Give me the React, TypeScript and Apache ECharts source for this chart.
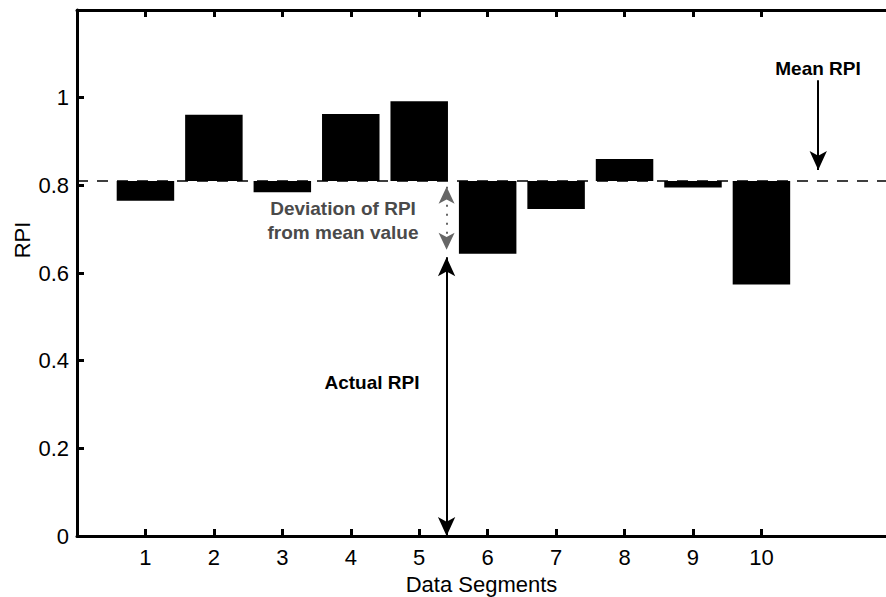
import React, { useEffect, useRef } from "react";
import * as echarts from "echarts";

// Segment indices and their relative performance index (RPI)
const segments = [1, 2, 3, 4, 5, 6, 7, 8, 9, 10];
const rpiValues = [0.765, 0.961, 0.784, 0.963, 0.992, 0.644, 0.746, 0.86, 0.795, 0.574];
const meanRpi = 0.81;

// Axis ranges and labelled ticks
const xTicks = [1, 2, 3, 4, 5, 6, 7, 8, 9, 10];
const xRange = [0, 11.82];
const yRange = [0, 1.2];
const yStep = 0.2;

// Annotation anchors (data units)
const meanArrow = { x: 10.83, from: 1.04, to: 0.835 };
const actualArrow = { x: 5.4, from: 0, to: 0.636 };
const deviationArrow = { x: 5.4, from: 0.797, to: 0.653 };

const FONT = "'Liberation Sans', Arial, Helvetica, sans-serif";
const BAR_HALF = 0.42;

export default function App() {
  const ref = useRef<HTMLDivElement>(null);

  useEffect(() => {
    if (!ref.current) return;
    const chart = echarts.init(ref.current, undefined, { renderer: "svg" });

    const barData = segments.map((s, i) => [s, rpiValues[i]]);

    const axisLineStyle = { color: "#000", width: 3 };
    const tickStyle = { color: "#000", width: 3 };
    const labelStyle = { color: "#000", fontSize: 22, fontFamily: FONT, fontWeight: 500 };

    chart.setOption({
      animation: false,
      backgroundColor: "#fff",
      grid: { left: 77, right: 0, top: 10, bottom: 61, outerBoundsMode: "none", containLabel: false },
      xAxis: [
        {
          type: "value",
          min: xRange[0],
          max: xRange[1],
          position: "bottom",
          splitLine: { show: false },
          axisLine: { show: true, onZero: false, lineStyle: axisLineStyle },
          axisTick: { show: true, inside: true, length: 7, lineStyle: tickStyle, customValues: xTicks },
          axisLabel: { show: true, customValues: xTicks, margin: 10, ...labelStyle },
          name: "Data Segments",
          nameLocation: "middle",
          nameGap: 37,
          nameTextStyle: { ...labelStyle, verticalAlign: "top" },
        },
        {
          type: "value",
          min: xRange[0],
          max: xRange[1],
          position: "top",
          splitLine: { show: false },
          axisLine: { show: true, onZero: false, lineStyle: axisLineStyle },
          axisTick: { show: true, inside: true, length: 7, lineStyle: tickStyle, customValues: xTicks },
          axisLabel: { show: false },
        },
      ],
      yAxis: {
        type: "value",
        min: yRange[0],
        max: yRange[1],
        interval: yStep,
        splitLine: { show: false },
        axisLine: { show: true, onZero: false, lineStyle: axisLineStyle },
        axisTick: { show: true, inside: true, length: 7, lineStyle: tickStyle },
        axisLabel: {
          showMaxLabel: false,
          margin: 8,
          ...labelStyle,
          formatter: (v: number) => String(Number(v.toFixed(1))),
        },
      },
      series: [
        {
          type: "custom",
          name: "RPI",
          data: barData,
          renderItem: (params: any, api: any) => {
            const x = api.value(0);
            const v = api.value(1);
            const p0 = api.coord([x - BAR_HALF, meanRpi]);
            const p1 = api.coord([x + BAR_HALF, v]);
            return {
              type: "rect",
              shape: {
                x: p0[0],
                y: Math.min(p0[1], p1[1]),
                width: p1[0] - p0[0],
                height: Math.abs(p1[1] - p0[1]),
              },
              style: { fill: "#000" },
            };
          },
          z: 3,
        },
        {
          type: "line",
          name: "Mean",
          data: [],
          markLine: {
            silent: true,
            symbol: ["none", "none"],
            label: { show: false },
            lineStyle: { color: "#000", width: 1.5, type: [11, 9] },
            data: [{ yAxis: meanRpi }],
          },
        },
        {
          type: "line",
          name: "Arrows",
          data: [],
          markLine: {
            silent: true,
            label: { show: false },
            lineStyle: { color: "#000", width: 2, type: "solid" },
            data: [
              [
                { coord: [meanArrow.x, meanArrow.from], symbol: "none" },
                { coord: [meanArrow.x, meanArrow.to], symbol: "arrow", symbolSize: [13, 19] },
              ],
              [
                { coord: [actualArrow.x, actualArrow.from], symbol: "arrow", symbolSize: [13, 19] },
                { coord: [actualArrow.x, actualArrow.to], symbol: "arrow", symbolSize: [13, 19] },
              ],
            ],
          },
        },
        {
          type: "line",
          name: "Deviation",
          data: [],
          markLine: {
            silent: true,
            label: { show: false },
            lineStyle: { color: "#666", width: 2, type: [2, 7] },
            itemStyle: { color: "#555" },
            data: [
              [
                { coord: [deviationArrow.x, deviationArrow.from], symbol: "arrow", symbolSize: [12, 17] },
                { coord: [deviationArrow.x, deviationArrow.to], symbol: "arrow", symbolSize: [12, 17] },
              ],
            ],
          },
        },
      ],
      graphic: [
        {
          type: "text",
          x: 818,
          y: 68,
          style: {
            text: "Mean RPI",
            fill: "#000",
            font: `bold 19px ${FONT}`,
            align: "center",
            verticalAlign: "middle",
          },
        },
        {
          type: "text",
          x: 343,
          y: 220,
          style: {
            text: "Deviation of RPI\nfrom mean value",
            fill: "#4a4a4a",
            font: `bold 19px ${FONT}`,
            lineHeight: 24,
            align: "center",
            verticalAlign: "middle",
          },
        },
        {
          type: "text",
          x: 372,
          y: 382,
          style: {
            text: "Actual RPI",
            fill: "#000",
            font: `bold 19px ${FONT}`,
            align: "center",
            verticalAlign: "middle",
          },
        },
        {
          type: "text",
          x: 22,
          y: 240,
          rotation: Math.PI / 2,
          style: {
            text: "RPI",
            fill: "#000",
            font: `500 22px ${FONT}`,
            align: "center",
            verticalAlign: "middle",
          },
        },
      ],
    });

    return () => chart.dispose();
  }, []);

  return (
    <div
      ref={ref}
      style={{ position: "absolute", left: 0, top: 0, width: 886, height: 597 }}
    />
  );
}
